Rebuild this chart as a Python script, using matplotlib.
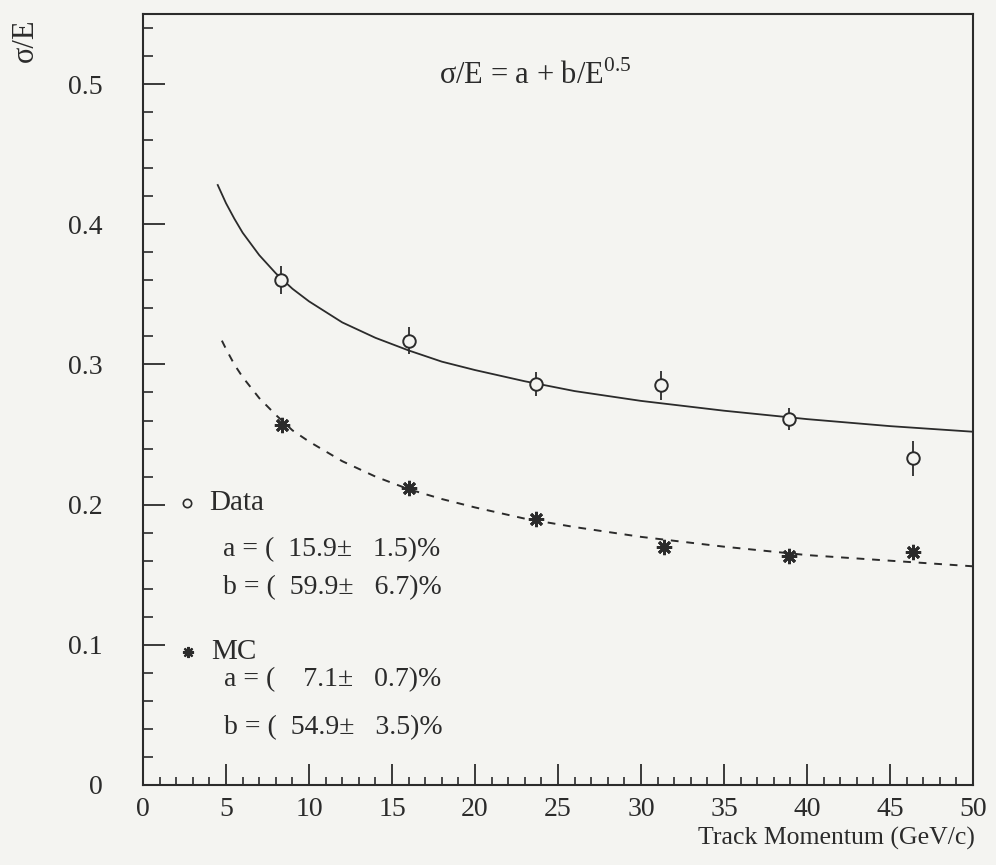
import numpy as np
import matplotlib
matplotlib.use("Agg")
import matplotlib.pyplot as plt

plt.rcParams["font.family"] = ["Liberation Serif", "DejaVu Serif"]
plt.rcParams["mathtext.fontset"] = "custom"
plt.rcParams["mathtext.rm"] = "Liberation Serif"

# points
data_p = [8.3, 16.0, 23.7, 31.2, 38.9, 46.4]
data_res = [0.360, 0.317, 0.286, 0.285, 0.261, 0.233]
data_err = [0.010, 0.0095, 0.0083, 0.010, 0.008, 0.0125]

mc_p = [8.4, 16.0, 23.7, 31.4, 38.9, 46.4]
mc_res = [0.257, 0.212, 0.190, 0.170, 0.163, 0.166]

# fitted curves
fit_data_p = [4.5, 5, 5.5, 6, 7, 8, 9, 10, 12, 14, 16, 18, 20, 23, 26, 30, 35, 40, 45, 50]
fit_data_res = [0.428, 0.415, 0.404, 0.394, 0.378, 0.365, 0.354, 0.345, 0.330, 0.319,
                0.310, 0.302, 0.296, 0.288, 0.281, 0.274, 0.267, 0.261, 0.256, 0.252]
fit_mc_p = [4.75, 5, 5.5, 6, 7, 8, 9, 10, 12, 14, 16, 18, 20, 23, 26, 30, 35, 40, 45, 50]
fit_mc_res = [0.317, 0.311, 0.300, 0.291, 0.276, 0.264, 0.253, 0.245, 0.231, 0.220,
              0.211, 0.204, 0.198, 0.190, 0.184, 0.177, 0.170, 0.164, 0.160, 0.156]

data_txt = ["a = (  15.9\u00b1   1.5)%", "b = (  59.9\u00b1   6.7)%"]
mc_txt = ["a = (    7.1\u00b1   0.7)%", "b = (  54.9\u00b1   3.5)%"]

ink = "#2b2b2b"
bg = "#f4f4f1"

fig = plt.figure(figsize=(9.96, 8.65), dpi=100, facecolor=bg)
ax = fig.add_axes([0.1436, 0.0925, 0.8334, 0.8913])
ax.set_facecolor(bg)

ax.plot(fit_data_p, fit_data_res, "-", color=ink, lw=1.3)
ax.plot(fit_mc_p, fit_mc_res, "--", color=ink, lw=1.4, dashes=(4, 4))

ax.errorbar(data_p, data_res, yerr=data_err, fmt="o", mfc=bg, mec=ink, ecolor=ink,
            ms=9, mew=1.4, elinewidth=1.3, capsize=0, zorder=3)
ax.plot(mc_p, mc_res, ls="none", marker=(8, 2, 0), color=ink, ms=11, mew=2.0, zorder=3)

ax.set_xlim(0, 50)
ax.set_ylim(0, 0.55)
ax.set_xticks(np.arange(0, 51, 5))
ax.set_xticks(np.arange(0, 51, 1), minor=True)
ax.set_yticks(np.arange(0, 0.51, 0.1))
ax.set_yticklabels(["0", "0.1", "0.2", "0.3", "0.4", "0.5"])
ax.set_yticks(np.arange(0, 0.55, 0.02), minor=True)
ax.tick_params(axis="both", which="both", direction="in", color=ink, labelcolor=ink,
               top=False, right=False, labelsize=20)
ax.tick_params(axis="x", which="major", length=15, width=1.3, pad=9)
ax.tick_params(axis="x", which="minor", length=6, width=1.2)
ax.tick_params(axis="y", which="major", length=16, width=1.3, pad=29)
ax.tick_params(axis="y", which="minor", length=7, width=1.2)
for s in ax.spines.values():
    s.set_color(ink)
    s.set_linewidth(1.5)

ax.text(23.6, 0.506, "\u03c3/E = a + b/E$^{\\mathregular{0.5}}$", fontsize=22,
        ha="center", va="center", color=ink)

ax.plot([2.65], [0.201], "o", mfc=bg, mec=ink, ms=6, mew=1.2)
ax.text(4.0, 0.201, "Data", fontsize=21, va="center", color=ink)
ax.text(4.8, 0.168, data_txt[0], fontsize=20, va="center", color=ink)
ax.text(4.8, 0.141, data_txt[1], fontsize=20, va="center", color=ink)

ax.plot([2.7], [0.095], ls="none", marker=(8, 2, 0), color=ink, ms=8, mew=1.6)
ax.text(4.1, 0.095, "MC", fontsize=21, va="center", color=ink)
ax.text(4.9, 0.075, mc_txt[0], fontsize=20, va="center", color=ink)
ax.text(4.9, 0.041, mc_txt[1], fontsize=20, va="center", color=ink)

fig.text(0.025, 0.953, "\u03c3/E", rotation=90, fontsize=22, ha="center", va="center",
         color=ink)
fig.text(0.979, 0.031, "Track Momentum (GeV/c)", fontsize=18.5, ha="right", va="center",
         color=ink)

fig.savefig("out.png", dpi=100, facecolor=bg)
